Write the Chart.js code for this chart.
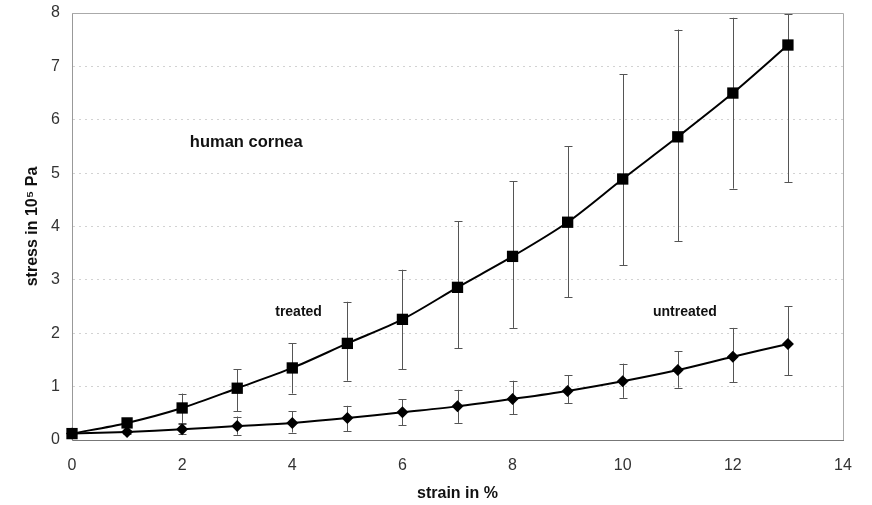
<!DOCTYPE html>
<html>
<head>
<meta charset="utf-8">
<script src="https://cdn.jsdelivr.net/npm/chart.js@4/dist/chart.umd.min.js"></script>
<style>
  html, body { margin: 0; padding: 0; background: #fff; }
  #wrap { width: 872px; height: 505px; }
</style>
</head>
<body>
<div id="wrap"><canvas id="chart" width="872" height="505"></canvas></div>
<script>
// strain in % (x values)
const strain = [0, 1, 2, 3, 4, 5, 6, 7, 8, 9, 10, 11, 12, 13];

// treated cornea (squares)
const treated      = [0.12, 0.32, 0.60, 0.97, 1.35, 1.81, 2.26, 2.86, 3.44, 4.08, 4.89, 5.68, 6.50, 7.40];
const treatedHigh  = [0.12, 0.40, 0.87, 1.33, 1.81, 2.59, 3.19, 4.10, 4.85, 5.50, 6.85, 7.69, 7.91, 7.98];
const treatedLow   = [0.12, 0.26, 0.32, 0.54, 0.87, 1.11, 1.33, 1.72, 2.10, 2.67, 3.27, 3.72, 4.71, 4.83];

// untreated cornea (diamonds)
const untreated     = [0.12, 0.15, 0.20, 0.26, 0.32, 0.41, 0.52, 0.63, 0.77, 0.92, 1.10, 1.31, 1.56, 1.80];
const untreatedHigh = [0.12, 0.18, 0.30, 0.44, 0.54, 0.64, 0.76, 0.94, 1.11, 1.21, 1.43, 1.66, 2.10, 2.51];
const untreatedLow  = [0.12, 0.12, 0.12, 0.10, 0.14, 0.16, 0.28, 0.32, 0.48, 0.69, 0.79, 0.98, 1.08, 1.21];

const xTicks = [0, 2, 4, 6, 8, 10, 12, 14];
const yTicks = [0, 1, 2, 3, 4, 5, 6, 7, 8];

// text placed inside the plot (data coordinates)
const notes = [
  { text: 'human cornea', x: 2.14, y: 5.58, size: 16.5 },
  { text: 'treated',      x: 3.69, y: 2.40, size: 14 },
  { text: 'untreated',    x: 10.55, y: 2.40, size: 14 }
];

const toPoints = (xs, ys) => xs.map((x, i) => ({ x: x, y: ys[i] }));

// error bars drawn under the markers
const errorBars = {
  id: 'errorBars',
  beforeDatasetsDraw(chart) {
    const { ctx, scales: { x, y } } = chart;
    const sets = [[treatedLow, treatedHigh], [untreatedLow, untreatedHigh]];
    ctx.save();
    ctx.strokeStyle = '#555';
    ctx.lineWidth = 1;
    sets.forEach(([lo, hi]) => {
      strain.forEach((s, i) => {
        const px = Math.round(x.getPixelForValue(s)) + 0.5;
        const y1 = y.getPixelForValue(lo[i]);
        const y2 = y.getPixelForValue(hi[i]);
        ctx.beginPath();
        ctx.moveTo(px, y1); ctx.lineTo(px, y2);
        ctx.moveTo(px - 4, Math.round(y1) + 0.5); ctx.lineTo(px + 4, Math.round(y1) + 0.5);
        ctx.moveTo(px - 4, Math.round(y2) + 0.5); ctx.lineTo(px + 4, Math.round(y2) + 0.5);
        ctx.stroke();
      });
    });
    ctx.restore();
  }
};

// plot frame and inline labels
const frameAndNotes = {
  id: 'frameAndNotes',
  afterDraw(chart) {
    const { ctx, chartArea: a, scales: { x, y } } = chart;
    ctx.save();
    ctx.strokeStyle = '#aaa';
    ctx.lineWidth = 1;
    ctx.beginPath();
    ctx.moveTo(a.left, a.top + 0.5); ctx.lineTo(a.right + 0.5, a.top + 0.5);
    ctx.lineTo(a.right + 0.5, a.bottom);
    ctx.stroke();
    ctx.fillStyle = '#111';
    ctx.textBaseline = 'middle';
    notes.forEach(n => {
      ctx.font = 'bold ' + n.size + 'px "Liberation Sans", Arial, sans-serif';
      ctx.fillText(n.text, x.getPixelForValue(n.x), y.getPixelForValue(n.y));
    });
    ctx.restore();
  }
};

const tickFont = { family: '"Liberation Sans", Arial, sans-serif', size: 16 };
const titleFont = { family: '"Liberation Sans", Arial, sans-serif', size: 16, weight: 'bold' };

new Chart(document.getElementById('chart').getContext('2d'), {
  type: 'line',
  data: {
    datasets: [
      {
        label: 'treated',
        data: toPoints(strain, treated),
        borderColor: '#000',
        backgroundColor: '#000',
        borderWidth: 2,
        tension: 0.3,
        pointStyle: 'rect',
        pointRadius: 8,
        pointBorderWidth: 0,
        clip: false
      },
      {
        label: 'untreated',
        data: toPoints(strain, untreated),
        borderColor: '#000',
        backgroundColor: '#000',
        borderWidth: 2,
        tension: 0.3,
        pointStyle: 'rectRot',
        pointRadius: 6,
        pointBorderWidth: 0,
        clip: false
      }
    ]
  },
  options: {
    responsive: false,
    animation: false,
    layout: { padding: { top: 13, right: 29, left: 0, bottom: 0 } },
    plugins: { legend: { display: false }, tooltip: { enabled: false } },
    scales: {
      x: {
        type: 'linear',
        min: 0,
        max: 14,
        afterFit: s => { s.height = 65; },
        afterBuildTicks: s => { s.ticks = xTicks.map(v => ({ value: v })); },
        grid: { display: false, drawTicks: false },
        border: { display: true, color: '#777', width: 1 },
        ticks: { color: '#333', font: tickFont, padding: 16 },
        title: { display: true, text: 'strain in %', color: '#111', font: titleFont, padding: { top: 0, bottom: 2 } }
      },
      y: {
        min: 0,
        max: 8,
        afterFit: s => { s.width = 72; s.paddingTop = 0; s.paddingBottom = 0; },
        afterBuildTicks: s => { s.ticks = yTicks.map(v => ({ value: v })); },
        grid: { color: '#d2d2d2', drawTicks: false, lineWidth: 1 },
        border: { display: true, color: '#999', width: 1, dash: [2, 4] },
        ticks: { color: '#333', font: tickFont, padding: 12 },
        title: { display: true, text: 'stress in 10\u2075 Pa', color: '#111', font: titleFont, padding: { top: 23, bottom: 0 } }
      }
    }
  },
  plugins: [errorBars, frameAndNotes]
});
</script>
</body>
</html>
